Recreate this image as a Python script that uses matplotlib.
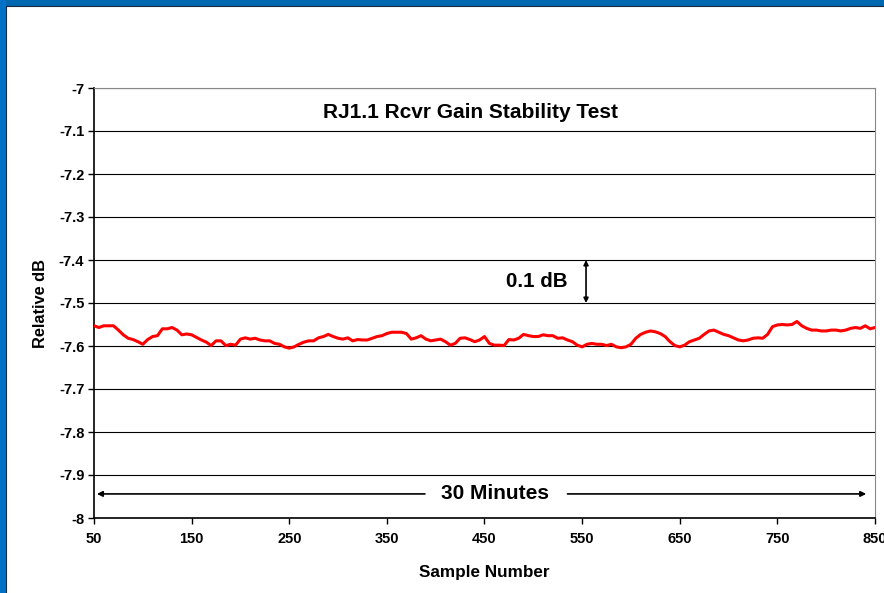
"""RJ1.1 receiver gain stability test: relative dB vs sample number."""
import matplotlib
matplotlib.use('Agg')
import matplotlib.pyplot as plt
from matplotlib.patches import Rectangle

plt.rcParams['font.family'] = ['Liberation Sans', 'DejaVu Sans']
plt.rcParams['font.weight'] = 'bold'

samples = list(range(50, 851, 5))
rel_db = [
    -7.553, -7.557, -7.553, -7.553, -7.553, -7.563, -7.574, -7.582, -7.585,
    -7.590, -7.596, -7.585, -7.578, -7.576, -7.560, -7.560, -7.557, -7.563,
    -7.574, -7.572, -7.574, -7.580, -7.586, -7.591, -7.599, -7.588, -7.588,
    -7.599, -7.596, -7.598, -7.584, -7.581, -7.584, -7.582, -7.586, -7.588,
    -7.588, -7.594, -7.596, -7.602, -7.605, -7.602, -7.596, -7.591, -7.588,
    -7.588, -7.581, -7.578, -7.573, -7.578, -7.582, -7.584, -7.581, -7.588,
    -7.585, -7.586, -7.586, -7.582, -7.578, -7.576, -7.571, -7.568,
    -7.568, -7.568, -7.571, -7.584, -7.581, -7.576, -7.584, -7.588, -7.586,
    -7.584, -7.590, -7.598, -7.594, -7.582, -7.581, -7.585, -7.590, -7.586,
    -7.578, -7.594, -7.598, -7.598, -7.599, -7.585, -7.586, -7.582, -7.573,
    -7.576, -7.578, -7.578, -7.574, -7.576, -7.576, -7.582, -7.581, -7.586,
    -7.590, -7.598, -7.602, -7.596, -7.594, -7.596, -7.596, -7.599, -7.596,
    -7.602, -7.604, -7.602, -7.596, -7.582, -7.573, -7.568, -7.565, -7.567,
    -7.571, -7.578, -7.590, -7.599, -7.602, -7.598, -7.590, -7.586, -7.582,
    -7.573, -7.565, -7.563, -7.568, -7.573, -7.576, -7.581, -7.586, -7.588,
    -7.586, -7.582, -7.581, -7.582, -7.573, -7.555, -7.551, -7.550, -7.551,
    -7.550, -7.543, -7.553, -7.559, -7.563, -7.563, -7.565, -7.565, -7.563,
    -7.563, -7.565, -7.563, -7.559, -7.557, -7.559, -7.553, -7.560, -7.557,
]
yticks = [-7, -7.1, -7.2, -7.3, -7.4, -7.5, -7.6, -7.7, -7.8, -7.9, -8]
xticks = list(range(50, 851, 100))

fig = plt.figure(figsize=(8.84, 5.93), dpi=100)
ax = fig.add_axes([94 / 884, 75 / 593, 781 / 884, 430 / 593])

# slide frame (blue band on the top and left)
fig.patches.append(Rectangle((0, 1 - 6 / 593), 1, 6 / 593, transform=fig.transFigure,
                             facecolor='#0067B1', edgecolor='none', zorder=0))
fig.patches.append(Rectangle((0, 0), 6 / 884, 1, transform=fig.transFigure,
                             facecolor='#0072C6', edgecolor='none', zorder=0))
fig.add_artist(plt.Line2D([6 / 884, 6 / 884], [0, 1 - 6 / 593], color='#1a2a40',
                          lw=0.8, transform=fig.transFigure))
fig.add_artist(plt.Line2D([6 / 884, 1], [1 - 6 / 593, 1 - 6 / 593], color='#1a2a40',
                          lw=0.8, transform=fig.transFigure))

ax.plot(samples, rel_db, color='#FF0000', lw=2.2, zorder=3)

ax.set_xlim(50, 850)
ax.set_ylim(-8, -7)
ax.set_xticks(xticks)
ax.set_yticks(yticks)
ax.set_yticklabels([f'{v:g}' for v in yticks])
ax.tick_params(direction='out', length=4, width=1, labelsize=10.5, pad=3)
ax.tick_params(axis='x', pad=6)
ax.yaxis.grid(True, color='black', lw=0.8)
ax.set_axisbelow(True)
for side in ('top', 'right'):
    ax.spines[side].set_color('#888888')
for side in ('left', 'bottom'):
    ax.spines[side].set_color('black')
    ax.spines[side].set_linewidth(1.2)

ax.set_ylabel('Relative dB', fontsize=11.8, fontweight='bold', labelpad=8)
ax.set_xlabel('Sample Number', fontsize=12.3, fontweight='bold', labelpad=14)

ax.text(436, -7.056, 'RJ1.1 Rcvr Gain Stability Test', ha='center', va='center',
        fontsize=15, fontweight='bold')

# 0.1 dB scale marker
ax.annotate('', xy=(554, -7.4), xytext=(554, -7.5),
            arrowprops=dict(arrowstyle='<|-|>', color='black', lw=1.2,
                            mutation_scale=7, shrinkA=0, shrinkB=0))
ax.text(504, -7.449, '0.1 dB', ha='center', va='center', fontsize=14.8,
        fontweight='bold')

# 30 minute span
ax.annotate('', xy=(53, -7.944), xytext=(389, -7.944),
            arrowprops=dict(arrowstyle='-|>', color='black', lw=1.2,
                            mutation_scale=8, shrinkA=0, shrinkB=0))
ax.annotate('', xy=(841, -7.944), xytext=(535, -7.944),
            arrowprops=dict(arrowstyle='-|>', color='black', lw=1.2,
                            mutation_scale=8, shrinkA=0, shrinkB=0))
ax.text(461, -7.944, '30 Minutes', ha='center', va='center', fontsize=15,
        fontweight='bold')

fig.savefig('out.png', dpi=100)
